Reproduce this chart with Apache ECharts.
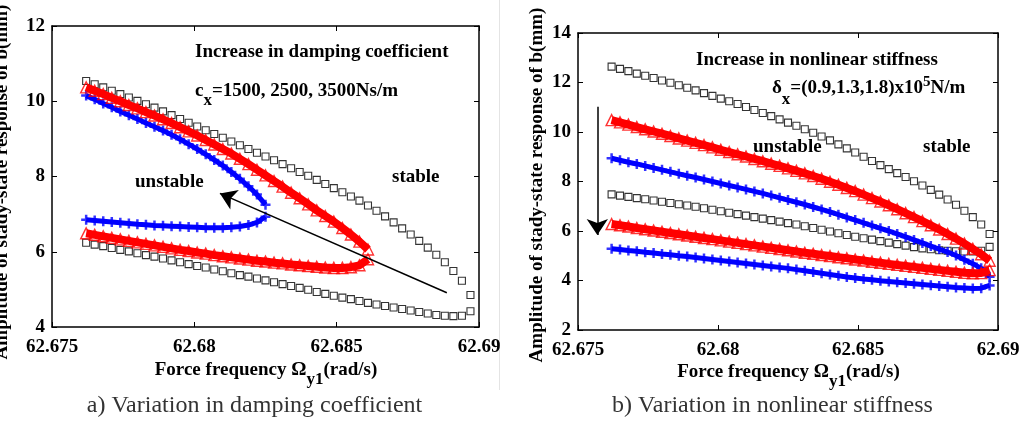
<!DOCTYPE html>
<html><head><meta charset="utf-8">
<script src="https://cdn.jsdelivr.net/npm/echarts@6/dist/echarts.min.js"></script>
<style>html,body{margin:0;padding:0;background:#fff}#c{width:1029px;height:421px}</style>
</head><body><div id="c"></div>
<script>
// Force frequency samples (rad/s)
const freq = [62.6762,62.6765,62.6768,62.6771,62.6774,62.6777,62.6780,62.6783,62.6786,62.6789,
62.6792,62.6795,62.6798,62.6801,62.6804,62.6807,62.6810,62.6813,62.6816,62.6819,
62.6822,62.6825,62.6828,62.6831,62.6834,62.6837,62.6840,62.6843,62.6846,62.6849,
62.6852,62.6855,62.6858,62.6861,62.6864,62.6867,62.6870,62.6873,62.6876,62.6879,
62.6882,62.6885,62.6888,62.6891,62.6894,62.6897];
const xTicks = [62.675, 62.69, 0.005];
const yTicksA = [4, 12, 2];
const yTicksB = [2, 14, 2];

// a) damping coefficient
const dampBlackUpper = [10.54,10.45,10.37,10.28,10.19,10.10,10.01,9.92,9.83,9.73,9.63,9.53,9.43,9.33,9.23,9.13,9.03,8.93,8.83,8.73,8.63,8.53,8.43,8.33,8.22,8.12,8.02,7.91,7.80,7.69,7.58,7.47,7.36,7.23,7.09,6.94,6.78,6.62,6.46,6.29,6.11,5.92,5.72,5.49,5.23,4.85];
const dampBlackLower = [6.24,6.19,6.15,6.10,6.05,6.01,5.96,5.91,5.87,5.82,5.77,5.72,5.67,5.62,5.58,5.53,5.48,5.43,5.38,5.34,5.29,5.24,5.19,5.14,5.09,5.04,4.99,4.93,4.88,4.83,4.78,4.74,4.69,4.64,4.60,4.56,4.52,4.48,4.44,4.40,4.36,4.32,4.30,4.29,4.30,4.42];
const dampRedUpper = [10.37,10.28,10.19,10.09,10.00,9.90,9.81,9.71,9.62,9.52,9.42,9.31,9.20,9.09,8.97,8.85,8.73,8.61,8.47,8.33,8.18,8.03,7.88,7.73,7.57,7.42,7.26,7.10,6.95,6.80,6.63,6.46,6.27,6.06];
const dampRedLower = [6.49,6.45,6.41,6.37,6.33,6.29,6.25,6.21,6.17,6.13,6.09,6.05,6.02,5.98,5.95,5.91,5.88,5.85,5.82,5.79,5.76,5.74,5.71,5.69,5.66,5.64,5.62,5.60,5.58,5.57,5.57,5.59,5.64,5.80];
const dampBlueUpper = [10.15,10.05,9.94,9.84,9.73,9.63,9.53,9.42,9.32,9.22,9.11,8.99,8.86,8.73,8.59,8.44,8.29,8.12,7.94,7.74,7.52,7.25];
const dampBlueLower = [6.85,6.83,6.81,6.79,6.77,6.75,6.73,6.72,6.70,6.69,6.68,6.67,6.66,6.65,6.64,6.64,6.64,6.65,6.67,6.71,6.78,6.93];
const dampArrow = [[62.68887, 4.91], [62.6809, 7.55]];

// b) nonlinear stiffness
const stiffBlackUpper = [12.64,12.55,12.46,12.36,12.27,12.18,12.08,11.99,11.89,11.79,11.68,11.57,11.46,11.35,11.24,11.13,11.01,10.89,10.77,10.64,10.51,10.38,10.25,10.11,9.97,9.82,9.66,9.50,9.34,9.17,9.00,8.83,8.66,8.50,8.34,8.18,8.01,7.84,7.66,7.47,7.27,7.06,6.82,6.56,6.26,5.88];
const stiffBlackLower = [7.48,7.43,7.38,7.33,7.28,7.23,7.18,7.13,7.08,7.03,6.98,6.92,6.86,6.80,6.74,6.68,6.62,6.56,6.50,6.44,6.38,6.32,6.26,6.19,6.12,6.05,5.98,5.91,5.84,5.77,5.71,5.65,5.59,5.53,5.47,5.41,5.35,5.30,5.26,5.22,5.20,5.18,5.17,5.17,5.20,5.36];
const stiffRedUpper = [10.48,10.39,10.30,10.20,10.11,10.02,9.93,9.84,9.74,9.65,9.56,9.47,9.38,9.28,9.19,9.10,9.01,8.91,8.82,8.72,8.63,8.53,8.43,8.33,8.22,8.11,7.99,7.87,7.74,7.61,7.47,7.33,7.19,7.04,6.88,6.72,6.56,6.40,6.23,6.06,5.88,5.69,5.49,5.28,5.06,4.80];
const stiffRedLower = [6.28,6.23,6.18,6.12,6.07,6.02,5.97,5.92,5.87,5.82,5.77,5.72,5.67,5.62,5.57,5.52,5.47,5.42,5.37,5.32,5.27,5.22,5.17,5.12,5.08,5.03,4.99,4.94,4.90,4.85,4.81,4.76,4.72,4.67,4.63,4.59,4.55,4.51,4.47,4.43,4.39,4.35,4.31,4.29,4.30,4.42];
const stiffBlueUpper = [8.94,8.86,8.78,8.71,8.63,8.55,8.47,8.39,8.31,8.23,8.16,8.08,8.00,7.92,7.84,7.76,7.68,7.60,7.52,7.43,7.34,7.25,7.16,7.07,6.97,6.87,6.77,6.66,6.55,6.44,6.33,6.22,6.11,6.00,5.88,5.76,5.64,5.52,5.39,5.27,5.15,5.01,4.84,4.68,4.49,4.15];
const stiffBlueLower = [5.28,5.25,5.21,5.18,5.14,5.11,5.07,5.04,5.00,4.97,4.93,4.89,4.85,4.81,4.77,4.73,4.69,4.65,4.61,4.57,4.53,4.49,4.44,4.39,4.34,4.29,4.24,4.19,4.14,4.10,4.06,4.03,3.99,3.96,3.93,3.90,3.87,3.84,3.81,3.78,3.75,3.72,3.70,3.68,3.69,3.80];
const stiffArrow = [[62.67569, 11.02], [62.67569, 5.84]];

const FONT = "'Liberation Serif','Times New Roman',serif";
const zip = ys => ys.map((y, i) => [freq[i], y]);
const fmtX = v => String(parseFloat(Number(v).toFixed(3)));

function xAx(grid, pos, labels) {
  return {type:'value', gridIndex:grid, position:pos, min:xTicks[0], max:xTicks[1], interval:xTicks[2],
    axisLine:{show:true, onZero:false, lineStyle:{color:'#000', width:1.5}},
    axisTick:{show:true, inside:true, length:5, lineStyle:{color:'#000', width:1}},
    axisLabel:{show:labels, color:'#000', fontFamily:FONT, fontWeight:'bold', fontSize:19, margin:11, formatter:fmtX},
    splitLine:{show:false}};
}
function yAx(grid, pos, t, labels) {
  return {type:'value', gridIndex:grid, position:pos, min:t[0], max:t[1], interval:t[2],
    axisLine:{show:true, onZero:false, lineStyle:{color:'#000', width:1.5}},
    axisTick:{show:true, inside:true, length:5, lineStyle:{color:'#000', width:1}},
    axisLabel:{show:labels, color:'#000', fontFamily:FONT, fontWeight:'bold', fontSize:19, margin:7},
    splitLine:{show:false}};
}

const PLUS = 'path://M3,0H5V3H8V5H5V8H3V5H0V3H3Z';
function blackSeries(xi, data) {
  return {type:'scatter', xAxisIndex:xi, yAxisIndex:xi, data:zip(data), symbol:'rect', symbolSize:7,
    itemStyle:{color:'rgba(255,255,255,0)', borderColor:'#000', borderWidth:1.1}, z:2, silent:true};
}
function redSeries(xi, data) {
  return [
    {type:'line', xAxisIndex:xi, yAxisIndex:xi, data:zip(data), symbol:'none', lineStyle:{color:'#ff0000', width:8}, z:4, silent:true},
    {type:'scatter', xAxisIndex:xi, yAxisIndex:xi, data:zip(data), symbol:'triangle', symbolSize:11,
     itemStyle:{color:'rgba(255,0,0,0)', borderColor:'#ff0000', borderWidth:1.4}, z:4, silent:true}];
}
function blueSeries(xi, data) {
  return [
    {type:'line', xAxisIndex:xi, yAxisIndex:xi, data:zip(data), symbol:'none', lineStyle:{color:'#0000ff', width:5}, z:3, silent:true},
    {type:'scatter', xAxisIndex:xi, yAxisIndex:xi, data:zip(data), symbol:PLUS, symbolSize:10,
     itemStyle:{color:'#0000ff'}, z:3, silent:true}];
}
function arrowSeries(xi, pts) {
  return {type:'lines', coordinateSystem:'cartesian2d', xAxisIndex:xi, yAxisIndex:xi,
    data:[{coords:pts}], symbol:['none','arrow'], symbolSize:[10,16],
    lineStyle:{color:'#000', width:1.5, opacity:1}, z:6, silent:true};
}

// text helpers
const mctx = document.createElement('canvas').getContext('2d');
function measure(t, size, weight) {
  mctx.font = (weight || 'bold') + ' ' + size + 'px ' + FONT;
  return mctx.measureText(t).width;
}
function textEl(x, y, t, size, align, weight, fill) {
  return {type:'text', x:x, y:y, silent:true,
    style:{text:t, align:align, textAlign:align, verticalAlign:'middle', textVerticalAlign:'middle',
      fontFamily:FONT, fontWeight:weight || 'bold', fontSize:size, fill:fill || '#000'}};
}
// segs: [text, size, dy]
function segText(x, y, segs, align) {
  const widths = segs.map(s => measure(s[0], s[1]));
  const total = widths.reduce((a, b) => a + b, 0);
  let cx = align === 'center' ? x - total / 2 : x;
  return segs.map((s, i) => { const el = textEl(cx, y + s[2], s[0], s[1], 'left'); cx += widths[i]; return el; });
}
function yTitle(x, y) {
  const el = textEl(x, y, 'Amplitude of stady-state response of b(mm)', 19, 'center');
  el.rotation = Math.PI / 2;
  return el;
}

const option = {
  animation:false,
  backgroundColor:'#fff',
  grid:[
    {left:52, top:26, width:427, height:301, containLabel:false},
    {left:578, top:33, width:420, height:297, containLabel:false}
  ],
  xAxis:[xAx(0,'bottom',true), xAx(0,'top',false), xAx(1,'bottom',true), xAx(1,'top',false)],
  yAxis:[yAx(0,'left',yTicksA,true), yAx(0,'right',yTicksA,false), yAx(1,'left',yTicksB,true), yAx(1,'right',yTicksB,false)],
  series:[
    blackSeries(0, dampBlackUpper), blackSeries(0, dampBlackLower),
    ...blueSeries(0, dampBlueUpper), ...blueSeries(0, dampBlueLower),
    ...redSeries(0, dampRedUpper), ...redSeries(0, dampRedLower),
    arrowSeries(0, dampArrow),
    blackSeries(2, stiffBlackUpper), blackSeries(2, stiffBlackLower),
    ...blueSeries(2, stiffBlueUpper), ...blueSeries(2, stiffBlueLower),
    ...redSeries(2, stiffRedUpper), ...redSeries(2, stiffRedLower),
    arrowSeries(2, stiffArrow)
  ],
  graphic:[
    {type:'line', silent:true, shape:{x1:499.5, y1:0, x2:499.5, y2:390}, style:{stroke:'#e4e4e4', lineWidth:1}},
    textEl(195, 52, 'Increase in damping coefficient', 19, 'left'),
    ...segText(195, 91, [['c', 19, 0], ['x', 17, 10], ['=1500, 2500, 3500Ns/m', 19, 0]], 'left'),
    textEl(135, 182, 'unstable', 19, 'left'),
    textEl(392, 177, 'stable', 19, 'left'),
    ...segText(266, 370, [['Force frequency \u03a9', 19, 0], ['y1', 17, 10], ['(rad/s)', 19, 0]], 'center'),
    textEl(254.5, 406, 'a) Variation in damping coefficient', 24, 'center', 'normal', '#333'),
    yTitle(2, 182),
    textEl(696, 60, 'Increase in nonlinear stiffness', 19, 'left'),
    ...segText(772, 88, [['\u03b4', 19, 0], ['x', 17, 12], ['=(0.9,1.3,1.8)x10', 19, 0], ['5', 15, -6], ['N/m', 19, 0]], 'left'),
    textEl(753, 147, 'unstable', 19, 'left'),
    textEl(923, 147, 'stable', 19, 'left'),
    ...segText(788.5, 372, [['Force frequency \u03a9', 19, 0], ['y1', 17, 10], ['(rad/s)', 19, 0]], 'center'),
    textEl(772.5, 406, 'b) Variation in nonlinear stiffness', 24, 'center', 'normal', '#333'),
    yTitle(537, 185)
  ]
};
const chart = echarts.init(document.getElementById('c'));
chart.setOption(option);
</script>
</body></html>
